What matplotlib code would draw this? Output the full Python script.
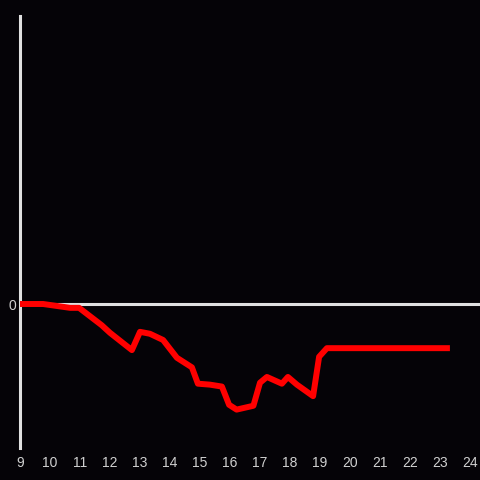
import matplotlib
matplotlib.use("Agg")
import matplotlib.pyplot as plt
import numpy as np

# series
hours = [9.0, 9.77, 10.67, 10.97, 11.72, 12.0, 12.73, 13.0, 13.33, 13.77, 14.23,
         14.73, 14.93, 15.33, 15.73, 15.97, 16.22, 16.78, 17.0, 17.23, 17.73,
         17.93, 18.23, 18.77, 18.97, 19.23, 23.33]
change = [0.0, 0.0, -0.04, -0.04, -0.22, -0.30, -0.48, -0.29, -0.31, -0.375, -0.56,
          -0.66, -0.83, -0.84, -0.86, -1.05, -1.10, -1.06, -0.82, -0.76, -0.83,
          -0.76, -0.84, -0.96, -0.55, -0.46, -0.46]
xticks = list(range(9, 25))

bg = "#050307"
fg = "#e0e0e0"

plt.rcParams['font.family'] = ['Liberation Sans', 'DejaVu Sans']

fig = plt.figure(figsize=(4.8, 4.8), dpi=100, facecolor=bg)
ax = fig.add_axes([20/480, 32/480, 460/480, 432/480])
ax.set_facecolor(bg)

ax.axhline(0, color=fg, lw=2.2, zorder=1)
ax.plot(hours, change, color="#ff0000", lw=4.3, solid_joinstyle="round",
        solid_capstyle="butt", zorder=3)

ax.set_xlim(9, 24.333)
ax.set_ylim(-1.5, 3.0)
ax.set_xticks(xticks)
ax.set_xticklabels([str(t) for t in xticks])
ax.set_yticks([0])
ax.set_yticklabels(["0"])
ax.tick_params(length=0, colors="#d0d0d0", labelsize=10)
ax.tick_params(axis="x", pad=5.5)
ax.tick_params(axis="y", pad=3)

for s in ["top", "right", "bottom"]:
    ax.spines[s].set_visible(False)
ax.spines["left"].set_color(fg)
ax.spines["left"].set_linewidth(2.2)

fig.savefig("out.png", dpi=100, facecolor=bg)
